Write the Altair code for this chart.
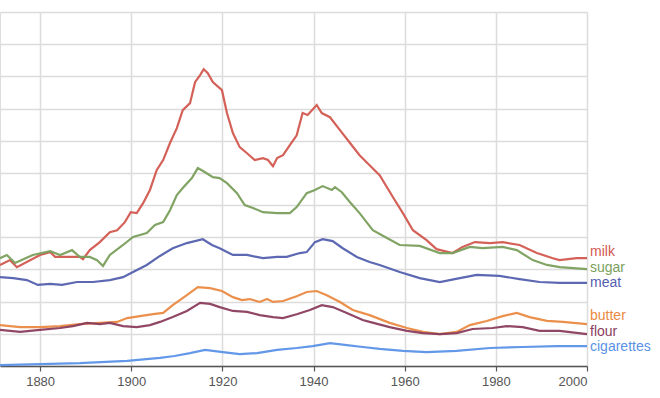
import altair as alt
import pandas as pd

# ---- data (y in gridline units) ----
milk_years = [1871.2, 1873.4, 1874.9, 1880.0, 1882.2, 1883.3, 1888.7, 1889.4, 1890.9, 1893.1,
              1895.3, 1896.9, 1898.6, 1899.9, 1901.2, 1902.6, 1904.1, 1905.6, 1907.0, 1908.5,
              1910.0, 1911.3, 1912.9, 1914.0, 1915.1, 1915.9, 1916.8, 1917.9, 1919.9, 1921.0,
              1922.3, 1923.8, 1925.4, 1927.1, 1928.9, 1930.0, 1931.1, 1932.0, 1933.3, 1934.8,
              1936.3, 1937.6, 1938.7, 1940.7, 1941.8, 1943.6, 1945.8, 1948.0, 1950.1, 1952.3,
              1954.5, 1957.4, 1959.6, 1961.8, 1964.8, 1967.0, 1970.5, 1972.7, 1975.4, 1978.7,
              1981.5, 1985.2, 1989.0, 1992.5, 1994.0, 1997.7, 2000.0]
milk_values = [3.14, 3.29, 3.07, 3.45, 3.54, 3.39, 3.39, 3.32, 3.60, 3.85,
               4.16, 4.22, 4.47, 4.78, 4.75, 5.06, 5.47, 6.09, 6.40, 6.93,
               7.39, 7.95, 8.17, 8.82, 9.04, 9.22, 9.10, 8.82, 8.57, 7.86,
               7.24, 6.80, 6.61, 6.40, 6.46, 6.40, 6.21, 6.46, 6.55, 6.86,
               7.17, 7.86, 7.80, 8.11, 7.86, 7.73, 7.33, 6.93, 6.55, 6.24,
               5.93, 5.25, 4.75, 4.22, 3.91, 3.63, 3.51, 3.70, 3.85, 3.82,
               3.85, 3.76, 3.51, 3.35, 3.29, 3.35, 3.35]

sugar_years = [1871.2, 1872.7, 1874.5, 1878.4, 1882.2, 1884.4, 1887.0, 1888.7, 1890.9, 1892.5,
               1893.8, 1895.3, 1898.2, 1900.4, 1903.4, 1905.2, 1907.0, 1908.5, 1910.0, 1911.3,
               1913.3, 1914.6, 1916.2, 1917.9, 1919.4, 1921.0, 1923.2, 1924.9, 1926.7, 1928.9,
               1932.0, 1934.8, 1936.3, 1938.5, 1940.3, 1942.0, 1944.0, 1944.7, 1946.2, 1948.0,
               1950.1, 1953.0, 1956.1, 1958.9, 1963.3, 1967.7, 1970.5, 1974.3, 1977.1, 1981.5,
               1984.6, 1988.1, 1991.2, 1994.0, 2000.0]
sugar_values = [3.35, 3.45, 3.20, 3.45, 3.57, 3.45, 3.60, 3.39, 3.39, 3.29,
                3.11, 3.45, 3.76, 4.01, 4.13, 4.38, 4.47, 4.84, 5.31, 5.53,
                5.84, 6.15, 6.02, 5.87, 5.84, 5.68, 5.37, 5.00, 4.91, 4.78,
                4.75, 4.75, 4.94, 5.37, 5.47, 5.59, 5.47, 5.56, 5.40, 5.09,
                4.75, 4.22, 3.98, 3.76, 3.73, 3.51, 3.51, 3.70, 3.66, 3.70,
                3.60, 3.29, 3.14, 3.07, 3.01]

meat_years = [1871.2, 1874.1, 1877.1, 1879.5, 1882.2, 1884.8, 1888.1, 1891.6, 1895.3, 1898.2,
              1900.4, 1903.4, 1906.3, 1909.1, 1912.2, 1915.7, 1917.7, 1919.4, 1922.3, 1925.4,
              1928.9, 1932.0, 1934.1, 1937.0, 1938.5, 1940.3, 1942.0, 1944.2, 1946.4, 1949.5,
              1952.3, 1954.5, 1958.9, 1963.3, 1967.7, 1972.1, 1975.8, 1980.8, 1985.2, 1989.6,
              1994.0, 2000.0]
meat_values = [2.76, 2.73, 2.67, 2.52, 2.55, 2.52, 2.61, 2.61, 2.67, 2.76,
               2.92, 3.14, 3.42, 3.66, 3.82, 3.94, 3.76, 3.66, 3.45, 3.45,
               3.35, 3.39, 3.39, 3.51, 3.54, 3.85, 3.94, 3.88, 3.66, 3.39,
               3.23, 3.14, 2.92, 2.73, 2.61, 2.73, 2.83, 2.80, 2.70, 2.61,
               2.58, 2.58]

butter_years = [1871.2, 1875.6, 1880.0, 1884.4, 1888.7, 1893.1, 1896.9, 1899.1, 1901.9, 1904.8,
                1907.0, 1909.1, 1912.2, 1914.6, 1917.3, 1919.9, 1922.3, 1924.3, 1926.0, 1928.2,
                1929.8, 1931.1, 1933.3, 1936.3, 1938.5, 1940.7, 1942.9, 1945.8, 1948.6, 1952.3,
                1956.7, 1960.5, 1964.0, 1967.7, 1971.4, 1974.3, 1978.0, 1981.5, 1984.6, 1987.4,
                1991.2, 1994.7, 2000.0]
butter_values = [1.27, 1.21, 1.21, 1.24, 1.30, 1.34, 1.37, 1.49, 1.55, 1.61,
                 1.65, 1.89, 2.20, 2.45, 2.42, 2.33, 2.14, 2.05, 2.08, 1.99,
                 2.08, 1.99, 2.02, 2.17, 2.30, 2.33, 2.20, 1.99, 1.74, 1.58,
                 1.34, 1.18, 1.06, 0.99, 1.06, 1.27, 1.40, 1.55, 1.65, 1.52,
                 1.40, 1.37, 1.30]

flour_years = [1871.2, 1875.6, 1880.0, 1884.4, 1887.2, 1890.3, 1893.1, 1895.3, 1898.2, 1901.2,
               1904.1, 1906.3, 1909.1, 1912.2, 1915.1, 1917.3, 1919.4, 1922.3, 1925.4, 1928.2,
               1931.1, 1933.3, 1936.3, 1939.2, 1941.8, 1944.2, 1947.3, 1950.8, 1952.3, 1956.7,
               1960.5, 1964.0, 1967.7, 1971.4, 1974.9, 1979.3, 1982.4, 1985.9, 1989.6, 1994.0,
               2000.0]
flour_values = [1.12, 1.06, 1.12, 1.18, 1.24, 1.34, 1.30, 1.34, 1.24, 1.21,
                1.27, 1.37, 1.52, 1.71, 1.96, 1.93, 1.83, 1.71, 1.68, 1.58,
                1.52, 1.49, 1.61, 1.74, 1.89, 1.83, 1.65, 1.43, 1.37, 1.21,
                1.09, 1.02, 0.99, 1.02, 1.15, 1.18, 1.24, 1.21, 1.09, 1.09,
                0.99]

cig_years = [1871.2, 1880.0, 1888.7, 1899.1, 1906.3, 1909.5, 1912.9, 1916.2, 1920.1, 1923.8,
             1927.6, 1932.0, 1936.3, 1939.8, 1943.6, 1947.3, 1950.8, 1954.5, 1959.6, 1964.8,
             1971.4, 1978.7, 1985.9, 1993.3, 2000.0]
cig_values = [0.03, 0.06, 0.09, 0.16, 0.25, 0.31, 0.40, 0.50, 0.43, 0.37,
              0.40, 0.50, 0.56, 0.62, 0.71, 0.65, 0.59, 0.53, 0.47, 0.43,
              0.47, 0.56, 0.59, 0.62, 0.62]

words = ["milk", "sugar", "meat", "butter", "flour", "cigarettes"]
colors = ["#d2584f", "#7a9f5c", "#5360ae", "#ea8a42", "#8a3d5d", "#5a92e6"]
label_values = [3.54, 3.04, 2.58, 1.55, 1.06, 0.59]
x_ticks = [1880, 1900, 1920, 1940, 1960, 1980, 2000]
y_grid = list(range(0, 12))

series = {
    "milk": (milk_years, milk_values),
    "sugar": (sugar_years, sugar_values),
    "meat": (meat_years, meat_values),
    "butter": (butter_years, butter_values),
    "flour": (flour_years, flour_values),
    "cigarettes": (cig_years, cig_values),
}

rows = []
for w, (ys, vs) in series.items():
    for yr, v in zip(ys, vs):
        rows.append({"word": w, "year": yr, "value": v})
df = pd.DataFrame(rows)
labels = pd.DataFrame({"word": words, "year": [2000] * len(words), "value": label_values})

xscale = alt.Scale(domain=[1871.2, 2000], nice=False, zero=False)
yscale = alt.Scale(domain=[0, 11], nice=False)
cscale = alt.Scale(domain=words, range=colors)

xaxis = alt.Axis(values=x_ticks, format="d", title=None, grid=True,
                 gridColor="#dcdcdc", gridWidth=1.5,
                 domainColor="#555555", domainWidth=1.5,
                 tickColor="#555555", tickSize=5, tickWidth=1.2,
                 labelFont="Liberation Sans", labelFontSize=13,
                 labelColor="#555555", labelPadding=4)
yaxis = alt.Axis(values=y_grid, labels=False, ticks=False, domain=False,
                 title=None, grid=True, gridColor="#dcdcdc", gridWidth=1.5)

lines = alt.Chart(df).mark_line(strokeWidth=2.2, opacity=0.95).encode(
    x=alt.X("year:Q", scale=xscale, axis=xaxis),
    y=alt.Y("value:Q", scale=yscale, axis=yaxis),
    color=alt.Color("word:N", scale=cscale, legend=None),
    detail="word:N",
    order="year:Q",
)

text = alt.Chart(labels).mark_text(align="left", baseline="middle", dx=3,
                                   font="Liberation Sans", fontSize=14).encode(
    x=alt.X("year:Q", scale=xscale, axis=xaxis),
    y=alt.Y("value:Q", scale=yscale, axis=yaxis),
    text="word:N",
    color=alt.Color("word:N", scale=cscale, legend=None),
)

chart = (lines + text).properties(
    width=587, height=354,
    autosize=alt.AutoSizeParams(type="none"),
    padding={"left": 0, "top": 12, "right": 73, "bottom": 32},
).configure_view(stroke=None).configure(background="white")

chart.save("out.html", embed_options={"renderer": "svg", "actions": False})
